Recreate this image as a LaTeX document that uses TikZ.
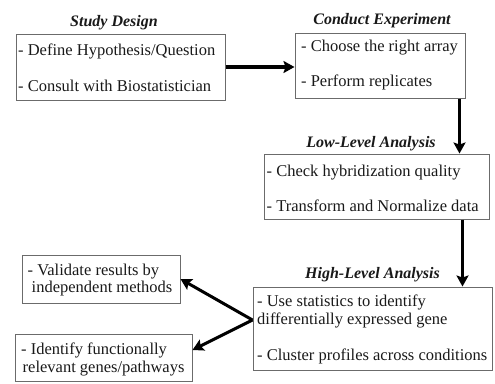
\documentclass[tikz,border=0pt]{standalone}
\usepackage{fontspec}
\setmainfont{Liberation Serif}
\usetikzlibrary{arrows.meta,calc}
\definecolor{boxgray}{gray}{0.42}
\definecolor{ink}{gray}{0.1}
\begin{document}
\begin{tikzpicture}[x=1pt,y=-1pt,
  box/.style={draw=boxgray, line width=1pt, rectangle, inner sep=0pt},
  txt/.style={anchor=west, align=left, inner sep=0pt, text=ink,
    font=\fontsize{16.5}{17.5}\selectfont},
  ttl/.style={anchor=base, inner sep=0pt, text=ink,
    font=\fontsize{16}{18}\selectfont\bfseries\itshape},
  arr/.style={line width=3.4pt, -{Stealth[length=11pt,width=12pt,inset=2pt]}}]
\useasboundingbox (0,0) rectangle (495,383);

% boxes
\node[box, minimum width=209pt, minimum height=66pt] (b1) at (120.5,67) {};
\node[box, minimum width=170pt, minimum height=65pt] (b2) at (380,65.5) {};
\node[box, minimum width=225pt, minimum height=65pt] (b3) at (376.5,186.5) {};
\node[box, minimum width=239pt, minimum height=83pt] (b4) at (372.5,328.5) {};
\node[box, minimum width=158pt, minimum height=48pt] (b5) at (101,279) {};
\node[box, minimum width=177pt, minimum height=47pt] (b6) at (103.5,357.5) {};

% texts
\node[txt] (t1) at ($(b1.west)+(2.5,1)$) {- Define Hypothesis/Question\\[18.5pt]- Consult with Biostatistician};
\node[txt] (t2) at ($(b2.west)+(6.5,0)$) {- Choose the right array\\[17.5pt]- Perform replicates};
\node[txt] (t3) at ($(b3.west)+(3,1.5)$) {- Check hybridization quality\\[17.5pt]- Transform and Normalize data};
\node[txt] (t4) at ($(b4.west)+(4.5,1)$) {- Use statistics to identify\\differentially expressed gene\\[19pt]- Cluster profiles across conditions};
\node[txt] (t5) at ($(b5.west)+(6,1)$) {- Validate results by\\\hspace*{4pt}independent methods};
\node[txt] (t6) at ($(b6.west)+(6.5,2)$) {- Identify functionally\\\hspace*{1.5pt}relevant genes/pathways};

% titles
\node[ttl] (h1) at ($(b1.north)+(-6.5,-7)$) {Study Design};
\node[ttl] (h2) at ($(b2.north)+(2,-8)$) {Conduct Experiment};
\node[ttl] (h3) at ($(b3.north)+(-5.5,-6)$) {Low-Level Analysis};
\node[ttl] (h4) at ($(b4.north)+(0,-8.5)$) {High-Level Analysis};

% connectors
\draw[arr] (b1.east) -- (b1.east -| b2.west);
\coordinate (a1) at ($(b2.south east)+(-6,0)$);
\draw[arr] (a1) -- (a1 |- b3.north);
\coordinate (a2) at ($(b3.south east)+(-27,0)$);
\draw[arr] (a2) -- (a2 |- b4.north);
\coordinate (J) at ($(b4.west)+(0,-8.5)$);
\coordinate (e6) at ($(b6.east)+(0,-7.5)$);
\draw[arr, line width=3pt] (J) -- (b5.east);
\draw[arr, line width=3pt] (J) -- (e6);
\end{tikzpicture}
\end{document}
